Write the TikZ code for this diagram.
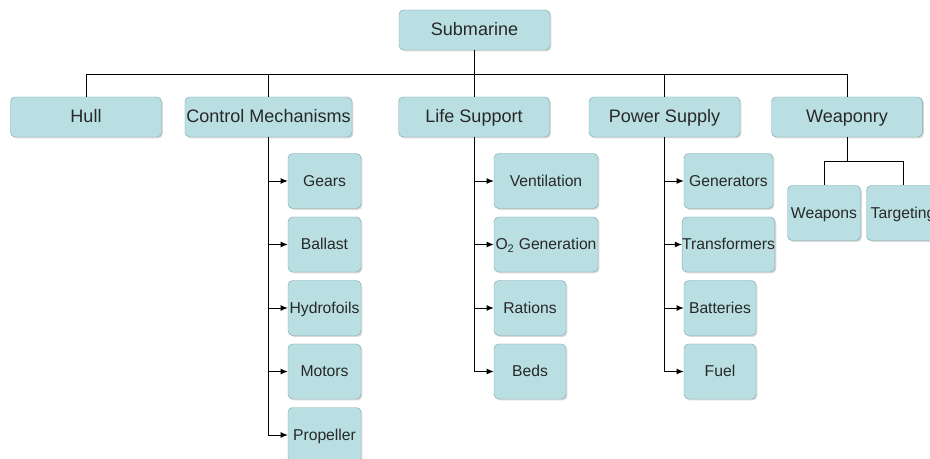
\documentclass[tikz,border=0pt]{standalone}
\usepackage{fontspec}
\setmainfont{Liberation Sans}
\usetikzlibrary{arrows.meta,shadows}
\definecolor{boxfill}{RGB}{185,223,227}
\definecolor{boxline}{RGB}{130,170,175}
\definecolor{boxtext}{RGB}{40,40,40}

\begin{document}
\begin{tikzpicture}[x=0.03cm,y=-0.03cm,
	box/.style={draw=boxline, fill=boxfill, rounded corners=4pt, text=boxtext, inner sep=0pt, text height=0.9em, text depth=0em, drop shadow={shadow xshift=1.2pt, shadow yshift=-1.2pt, opacity=0.3}},
	topbox/.style={box, minimum width=4.53cm, minimum height=1.2cm, font=\fontsize{15.4}{18}\selectfont},
	subbox/.style={box, minimum width=2.19cm, minimum height=1.65cm, font=\fontsize{13.4}{16}\selectfont},
	link/.style={line width=0.8pt},
	pile/.style={link, -{Latex[length=6pt,width=5pt]}}]

	\useasboundingbox (0,0) rectangle (930,459);
	\clip (0,0) rectangle (930,459);

	% Top level
	\node[topbox] (sub) at (474.5,30) {Submarine};
	\node[topbox] (hull) at (86,117) {Hull};
	\node[topbox, minimum width=5.01cm] (ctrl) at (268.5,117) {Control Mechanisms};
	\node[topbox] (life) at (474,117) {Life Support};
	\node[topbox] (power) at (664.5,117) {Power Supply};
	\node[topbox] (weap) at (847,117) {Weaponry};

	\coordinate (bus) at (0,74);
	\foreach \name in {hull,ctrl,life,power,weap}
		\draw[link] (sub.south) -- (sub.south |- bus) -| (\name.north);

	% Control mechanisms
	\foreach \name/\txt [count=\i] in {gears/Gears, ballast/Ballast, foils/Hydrofoils, motors/Motors, prop/Propeller}
	{
		\node[subbox] (\name) at (324.5,{181+63.5*(\i-1)}) {\txt};
		\draw[pile] (ctrl.south) |- (\name.west);
	}

	% Life support
	\foreach \name/\txt/\xc/\w [count=\i] in {vent/Ventilation/546/3.12cm, oxy/O\textsubscript{2} Generation/546/3.12cm, rations/Rations/530/2.16cm, beds/Beds/530/2.16cm}
	{
		\node[subbox, minimum width=\w] (\name) at (\xc,{181+63.5*(\i-1)}) {\txt};
		\draw[pile] (life.south) |- (\name.west);
	}

	% Power supply
	\foreach \name/\txt/\xc/\w [count=\i] in {gen/Generators/728.5/2.67cm, trans/Transformers/728.5/2.67cm, batt/Batteries/720/2.16cm, fuel/Fuel/720/2.16cm}
	{
		\node[subbox, minimum width=\w] (\name) at (\xc,{181+63.5*(\i-1)}) {\txt};
		\draw[pile] (power.south) |- (\name.west);
	}

	% Weaponry
	\node[subbox] (weapons) at (824,213) {Weapons};
	\node[subbox] (target) at (903,213) {Targeting};
	\coordinate (wsplit) at (847,161);
	\draw[link] (weap.south) -- (wsplit) -| (weapons.north);
	\draw[link] (weap.south) -- (wsplit) -| (target.north);

\end{tikzpicture}
\end{document}
